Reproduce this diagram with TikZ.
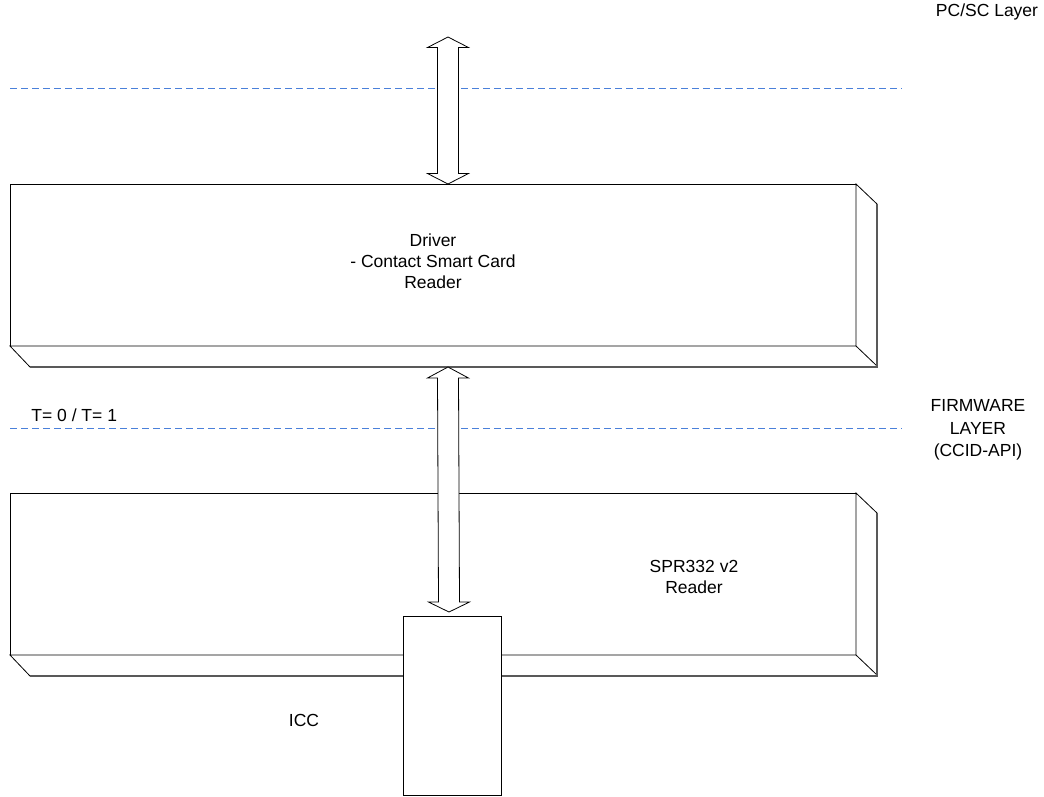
\documentclass[tikz,border=0pt]{standalone}
\usepackage{fontspec}
\setmainfont{Liberation Sans}
\usetikzlibrary{calc}
\definecolor{dashblue}{RGB}{74,128,218}
\begin{document}
\begin{tikzpicture}[x=1pt,y=-1pt,line width=0.8pt,
  lbl/.style={font=\fontsize{17.5}{21}\selectfont, align=center, inner sep=0pt},
  layerline/.style={draw=dashblue, dash pattern=on 7pt off 4pt, line width=1pt},
  slab/.style={draw=black, fill=white, minimum width=846pt, minimum height=162pt, anchor=north west, inner sep=0pt, outer sep=0pt},
  slabside/.style={draw=black, fill=white, line join=miter},
  slabedge/.style={draw=black!65, line width=1.3pt},
  blockarrow/.style={draw=black, fill=white, line join=miter},
  card/.style={draw=black, fill=white, minimum width=98pt, minimum height=179pt, anchor=north west, inner sep=0pt, outer sep=0pt}]
\useasboundingbox (0,0) rectangle (1044,796);

% layer separators
\coordinate (l1a) at (10,88.5);
\coordinate (l1b) at (902,88.5);
\coordinate (l2a) at (10,428.5);
\coordinate (l2b) at (902,428.5);
\draw[layerline] (l1a) -- (l1b);
\draw[layerline] (l2a) -- (l2b);

% layer labels
\node[lbl] (pcsc) at (987,12) {PC/SC Layer};
\node[lbl, font=\fontsize{17.5}{22.5}\selectfont] (fw) at (978,430) {FIRMWARE\\LAYER\\(CCID-API)};
\node[lbl, anchor=west] (tproto) at (31,415) {T= 0 / T= 1};

% driver slab
\node[slab] (drv) at (10,184) {};
\draw[slabside] (drv.north east) -- ++(21,20) -- ++(0,163) -- ++(-847,0) -- (drv.south west) -- (drv.south east) -- cycle;
\draw (drv.south east) -- ++(21,20);
\draw[slabedge] ($(drv.north east)+(21,20)$) -- ++(0,163) -- ++(-847,0);
\node[lbl] (drvtxt) at (433,261) {Driver\\- Contact Smart Card\\Reader};

% reader slab
\node[slab] (spr) at (10,493) {};
\draw[slabside] (spr.north east) -- ++(21,20) -- ++(0,163) -- ++(-847,0) -- (spr.south west) -- (spr.south east) -- cycle;
\draw (spr.south east) -- ++(21,20);
\draw[slabedge] ($(spr.north east)+(21,20)$) -- ++(0,163) -- ++(-847,0);
\node[lbl] (sprtxt) at (694,577) {SPR332 v2\\Reader};

% smart card
\node[card] (icc) at (403,616) {};
\node[lbl] (icctxt) at (304,720) {ICC};

% block arrows
\coordinate (a1top) at (448,37);
\coordinate (a1bot) at ($(drv.north west)+(438,0)$);
\draw[blockarrow] (a1top) -- ++(20.5,10.5) -- ++(-10,0) -- ($(a1bot)+(10.5,-10.5)$) -- ++(10,0) -- (a1bot) -- ++(-20.5,-10.5) -- ++(10,0) -- ($(a1top)+(-10.5,10.5)$) -- ++(-10,0) -- cycle;

\coordinate (a2top) at ($(drv.south west)+(438,21)$);
\coordinate (a2bot) at ($(icc.north)+(-3,-4)$);
\draw[blockarrow] (a2top) -- ++(20.5,11) -- ++(-10,0) -- ($(a2bot)+(10.5,-10)$) -- ++(10,0) -- (a2bot) -- ++(-20.5,-10) -- ++(10,0) -- ($(a2top)+(-10.5,11)$) -- ++(-10,0) -- cycle;
\end{tikzpicture}
\end{document}
